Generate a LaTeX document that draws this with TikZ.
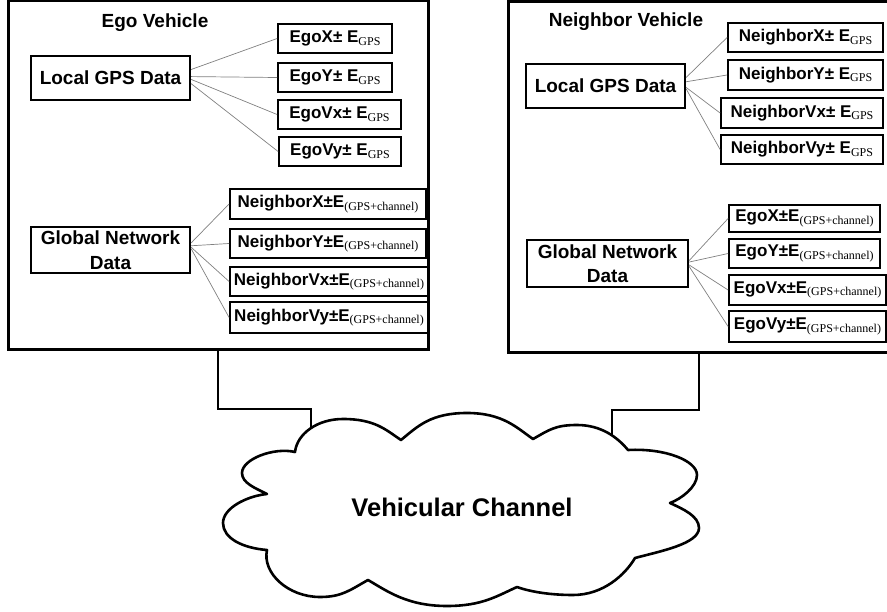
\documentclass[tikz,border=0pt]{standalone}
\usepackage{fontspec}
\setmainfont{Liberation Sans}
\newfontfamily\tmsfont{Liberation Serif}
\newcommand\lowsub[1]{\raisebox{-2.5pt}{\fontsize{12}{12}\selectfont\tmsfont\mdseries #1}}
\begin{document}
\begin{tikzpicture}[x=1pt,y=-1pt,
  frame/.style={draw, line width=3pt, inner sep=0, outer sep=0},
  bigbox/.style={draw, line width=2.2pt, inner sep=0, align=center, font=\fontsize{19}{24.5}\selectfont\bfseries},
  smallbox/.style={draw, line width=1.8pt, inner sep=0, font=\fontsize{17}{20}\selectfont\bfseries},
  title/.style={anchor=base, inner sep=0, font=\fontsize{19}{23}\selectfont\bfseries},
  link/.style={draw=black!50, line width=0.7pt},
  wire/.style={draw, line width=2.6pt},
]
\useasboundingbox (0,0) rectangle (887,612);

% vehicle frames
\node[frame, minimum width=420pt, minimum height=349.5pt] (egoframe) at (218,175.25) {};
\node[frame, minimum width=384pt, minimum height=351.5pt] (nbrframe) at (700,177.25) {};

% titles
\node[title] (egotitle) at (155,28) {Ego Vehicle};
\node[title] (nbrtitle) at (626,27) {Neighbor Vehicle};

% ego vehicle
\node[bigbox, minimum width=159pt, minimum height=44pt] (lgps) at (110.5,78) {Local GPS Data};
\node[smallbox, minimum width=114pt, minimum height=29pt] (ex) at (335,38.5) {EgoX± E\lowsub{GPS}};
\node[smallbox, minimum width=114pt, minimum height=29pt] (ey) at (335,77.5) {EgoY± E\lowsub{GPS}};
\node[smallbox, minimum width=123pt, minimum height=29pt] (evx) at (339.5,114.5) {EgoVx± E\lowsub{GPS}};
\node[smallbox, minimum width=122pt, minimum height=29pt] (evy) at (340,151.5) {EgoVy± E\lowsub{GPS}};

\node[bigbox, minimum width=159pt, minimum height=46pt] (gnd) at (110.5,250) {Global Network\\Data};
\node[smallbox, minimum width=196pt, minimum height=30pt] (nx) at (328,204) {NeighborX±E\lowsub{(GPS+channel)}};
\node[smallbox, minimum width=196pt, minimum height=29pt] (ny) at (328,243.5) {NeighborY±E\lowsub{(GPS+channel)}};
\node[smallbox, minimum width=198pt, minimum height=29pt] (nvx) at (329,281.5) {NeighborVx±E\lowsub{(GPS+channel)}};
\node[smallbox, minimum width=198pt, minimum height=31pt] (nvy) at (329,317.5) {NeighborVy±E\lowsub{(GPS+channel)}};

% neighbor vehicle
\node[bigbox, minimum width=159pt, minimum height=44pt] (rlgps) at (605.5,86) {Local GPS Data};
\node[smallbox, minimum width=155pt, minimum height=29pt] (rnx) at (805.5,37.5) {NeighborX± E\lowsub{GPS}};
\node[smallbox, minimum width=155pt, minimum height=30pt] (rny) at (805.5,75) {NeighborY± E\lowsub{GPS}};
\node[smallbox, minimum width=162pt, minimum height=30pt] (rnvx) at (802,113) {NeighborVx± E\lowsub{GPS}};
\node[smallbox, minimum width=162pt, minimum height=29pt] (rnvy) at (802,149.5) {NeighborVy± E\lowsub{GPS}};

\node[bigbox, minimum width=161pt, minimum height=47pt] (rgnd) at (607.5,263.5) {Global Network\\Data};
\node[smallbox, minimum width=151pt, minimum height=27pt] (rex) at (804.5,218.5) {EgoX±E\lowsub{(GPS+channel)}};
\node[smallbox, minimum width=151pt, minimum height=29pt] (rey) at (804.5,253.5) {EgoY±E\lowsub{(GPS+channel)}};
\node[smallbox, minimum width=157pt, minimum height=30pt] (revx) at (807.5,290) {EgoVx±E\lowsub{(GPS+channel)}};
\node[smallbox, minimum width=157pt, minimum height=31pt] (revy) at (807.5,326.5) {EgoVy±E\lowsub{(GPS+channel)}};

% thin links
\draw[link] (lgps.6) -- (ex.west);
\draw[link] (lgps.1) -- (ey.west);
\draw[link] (lgps.-1) -- (evx.west);
\draw[link] (lgps.-4) -- (evy.west);
\draw[link] (gnd.5) -- (nx.west);
\draw[link] (gnd.3) -- (ny.west);
\draw[link] (gnd.2) -- (nvx.west);
\draw[link] (gnd.1) -- (nvy.west);
\draw[link] (rlgps.6) -- (rnx.west);
\draw[link] (rlgps.3) -- (rny.west);
\draw[link] (rlgps.-1) -- (rnvx.west);
\draw[link] (rlgps.-2) -- (rnvy.west);
\draw[link] (rgnd.2) -- (rex.west);
\draw[link] (rgnd.1) -- (rey.west);
\draw[link] (rgnd.-1) -- (revx.west);
\draw[link] (rgnd.-2) -- (revy.west);

% connectors to the channel
\coordinate (bendL) at (218,409);
\coordinate (cloudL) at (311,440);
\coordinate (bendR) at (699,410);
\coordinate (cloudR) at (612,440);
\draw[wire] (egoframe.south -| bendL) -- (bendL) -| (cloudL);
\draw[wire] (nbrframe.south -| bendR) -- (bendR) -| (cloudR);

% cloud
\draw[wire, fill=white, line join=round] (295,452)
 .. controls (297,434) and (317,419) .. (343,419)
 .. controls (375,419) and (386,430) .. (401,440)
 .. controls (418,426) and (431,413) .. (467,413)
 .. controls (503,413) and (517,428) .. (533,439)
 .. controls (549,430) and (555,425) .. (577,425)
 .. controls (602,425) and (618,438) .. (628,450)
 .. controls (666,448) and (697,461) .. (697,475)
 .. controls (697,487) and (681,499) .. (670,503)
 .. controls (683,509) and (699,516) .. (699,528)
 .. controls (699,544) and (659,551.5) .. (635,558)
 .. controls (625,575) and (603,595) .. (573,595)
 .. controls (551,595) and (531,592) .. (517,587)
 .. controls (497,596) and (482,606) .. (447,606)
 .. controls (407,606) and (387,591) .. (368,580)
 .. controls (350,590) and (342,597) .. (320,597)
 .. controls (288,597) and (262,573) .. (267,550)
 .. controls (242,548) and (223,538) .. (223,523)
 .. controls (223,508) and (247,496) .. (267,494)
 .. controls (255,488) and (242,483) .. (242,473)
 .. controls (242,459) and (274,447) .. (295,452)
 -- cycle;
\node[anchor=base, inner sep=0, font=\fontsize{25.5}{30}\selectfont\bfseries] (chan) at (462,516.7) {Vehicular Channel};
\end{tikzpicture}
\end{document}
